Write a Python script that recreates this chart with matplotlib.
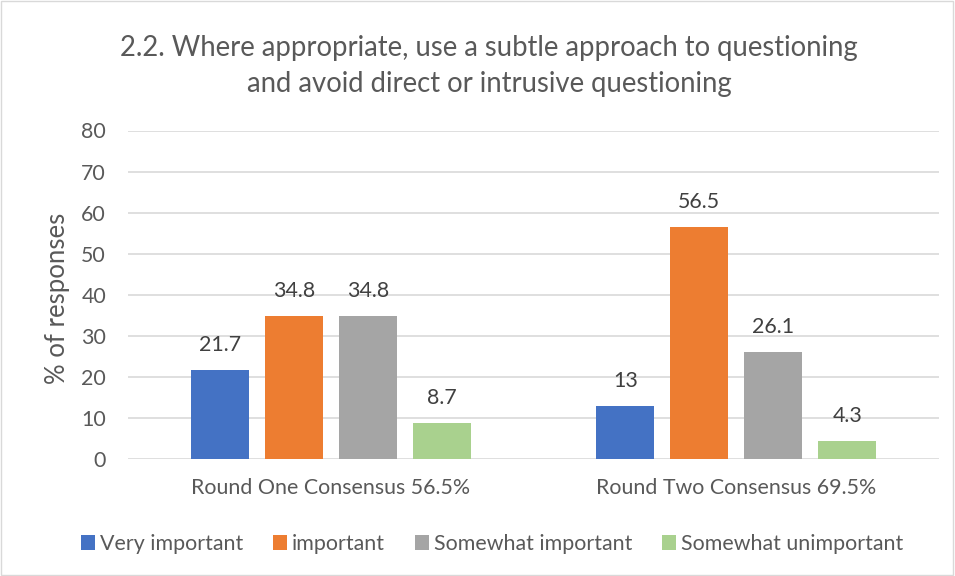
import numpy as np
import matplotlib
matplotlib.use("Agg")
import matplotlib.pyplot as plt
from matplotlib.patches import Rectangle

rounds = ["Round One Consensus 56.5%", "Round Two Consensus 69.5%"]
levels = ["Very important", "important", "Somewhat important", "Somewhat unimportant"]
very_important = [21.7, 13]
important = [34.8, 56.5]
somewhat_important = [34.8, 26.1]
somewhat_unimportant = [8.7, 4.3]

colors = ["#4472C4", "#ED7D31", "#A5A5A5", "#A9D18E"]
text_col = "#595959"

plt.rcParams["font.family"] = ["Lato", "DejaVu Sans"]

fig = plt.figure(figsize=(9.55, 5.76), dpi=100)
ax = fig.add_axes([128 / 955, 1 - 459 / 576, (939 - 128) / 955, (459 - 130.5) / 576])

series = [very_important, important, somewhat_important, somewhat_unimportant]
x = np.arange(len(rounds))
width = 0.143
step = 0.1825
for i, (vals, lab, c) in enumerate(zip(series, levels, colors)):
    pos = x + (i - 1.5) * step
    bars = ax.bar(pos, vals, width, color=c, label=lab, zorder=2)
    for b, v in zip(bars, vals):
        ax.annotate(f"{v:g}", (b.get_x() + b.get_width() / 2, v),
                    xytext=(0, 13.7), textcoords="offset points",
                    ha="center", va="baseline", fontsize=15.4, color="#404040")

ax.set_xlim(-0.5, 1.5)
ax.set_ylim(0, 80)
ax.set_yticks(range(0, 81, 10))
ax.set_xticks(x)
ax.set_xticklabels(rounds)
ax.yaxis.grid(True, color="#D9D9D9", linewidth=1.2, zorder=0)
ax.set_axisbelow(True)
for s in ax.spines.values():
    s.set_visible(False)
ax.tick_params(length=0, labelsize=15.4, labelcolor=text_col)
ax.tick_params(axis="y", pad=15.8)
ax.tick_params(axis="x", pad=14)

fig.text(58 / 955, 1 - 298 / 576, "% of responses", rotation=90,
         ha="center", va="center", fontsize=18.5, color=text_col)

fig.text(489 / 955, 1 - 66 / 576,
         "2.2. Where appropriate, use a subtle approach to questioning\nand avoid direct or intrusive questioning",
         ha="center", va="center", fontsize=19.8, color=text_col, linespacing=1.45)

fig.legend(loc="center", bbox_to_anchor=(492 / 955, 1 - 544 / 576), ncol=4,
           frameon=False, fontsize=15.4, handlelength=0.65, handleheight=0.65,
           handletextpad=0.23, columnspacing=1.4, labelcolor=text_col)

fig.patches.append(Rectangle((0.001, 0.001), 0.997, 0.997, transform=fig.transFigure,
                             fill=False, edgecolor="#D9D9D9", linewidth=1))

fig.savefig("out.png", dpi=100)
